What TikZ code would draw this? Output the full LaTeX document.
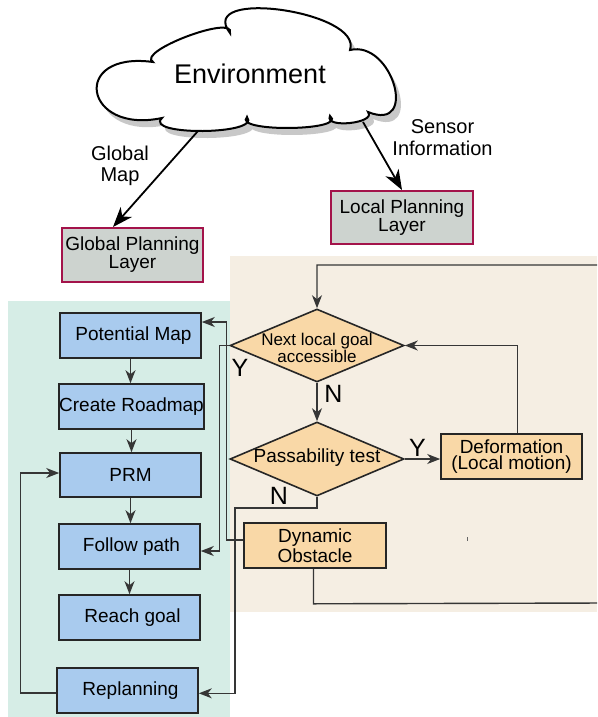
\documentclass[tikz,border=0pt]{standalone}
\usepackage{fontspec}
\setmainfont{Liberation Sans}
\usetikzlibrary{arrows.meta,shapes.geometric,calc}
\definecolor{bggreen}{HTML}{D6EDE6}
\definecolor{bgbeige}{HTML}{F5EEE3}
\definecolor{boxblue}{HTML}{A9CBEE}
\definecolor{boxorange}{HTML}{F9D8A7}
\definecolor{boxgrey}{HTML}{CDD3CF}
\definecolor{boxred}{HTML}{A3134A}
\definecolor{shadowgrey}{HTML}{C8C8C8}
\definecolor{linegrey}{HTML}{363636}
\tikzset{
  conn/.style={draw=linegrey, line width=1.4pt, -{Stealth[length=13pt,width=10pt,inset=4pt]}},
  bigarrow/.style={draw=black, line width=1.8pt, -{Stealth[length=20pt,width=15pt,inset=6pt]}},
  bluebox/.style={draw=black!85, line width=1.6pt, fill=boxblue, minimum width=141pt, minimum height=45pt, inner sep=0pt, font=\fontsize{19}{15}\selectfont},
  orangebox/.style={draw=black!85, line width=1.6pt, fill=boxorange, minimum width=141pt, minimum height=45pt, inner sep=0pt, align=center, font=\fontsize{19}{16.5}\selectfont},
  layerbox/.style={draw=boxred, line width=2pt, fill=boxgrey, minimum width=141pt, minimum height=54pt, inner sep=0pt, align=center, font=\fontsize{19}{15.5}\selectfont},
  dia/.style={diamond, draw=black!85, line width=1.6pt, fill=boxorange, minimum width=174pt, minimum height=73pt, inner sep=0pt},
  lbl/.style={align=center, inner sep=0pt, font=\fontsize{20}{21.5}\selectfont},
  yn/.style={inner sep=0pt, anchor=base, font=\fontsize{25}{25}\selectfont}
}
\begin{document}
\begin{tikzpicture}[x=1pt,y=-1pt]
\clip (0,0) rectangle (597,717);
\fill[white] (0,0) rectangle (597,717);
\fill[bggreen] (8,301) rectangle (230,717);
\fill[bgbeige] (230,256) rectangle (597,612);

% cloud shadow
\fill[shadowgrey, shift={(5,7)}] (153,62) .. controls (70,50.7) and (83.5,134.7) .. (162,118)
 .. controls (143,136) and (262,135) .. (247,117)
 .. controls (232.4,132.5) and (348.6,131.1) .. (330,116)
 .. controls (323.7,128.8) and (376.9,123.2) .. (368,112)
 .. controls (419.2,132.8) and (392.2,39.8) .. (350,50)
 .. controls (363.3,11.4) and (195.3,-12.4) .. (230,33)
 .. controls (235.75,13.75) and (135.65,51.45) .. (153,62) -- cycle;
% cloud
\filldraw[fill=white, draw=black, line width=2pt] (153,62) .. controls (70,50.7) and (83.5,134.7) .. (162,118)
 .. controls (143,136) and (262,135) .. (247,117)
 .. controls (232.4,132.5) and (348.6,131.1) .. (330,116)
 .. controls (323.7,128.8) and (376.9,123.2) .. (368,112)
 .. controls (419.2,132.8) and (392.2,39.8) .. (350,50)
 .. controls (363.3,11.4) and (195.3,-12.4) .. (230,33)
 .. controls (235.75,13.75) and (135.65,51.45) .. (153,62) -- cycle;
\node[inner sep=0pt, font=\fontsize{27}{30}\selectfont] (env) at (250,74) {Environment};
\coordinate (envgm) at (198,131);
\coordinate (envsi) at (363,122);

% planning layers
\node[layerbox] (gpl) at (132.5,255) {Global Planning\\Layer};
\node[layerbox, minimum width=142pt, minimum height=53pt, font=\fontsize{19}{17.7}\selectfont] (lpl) at (402,217.5) {Local Planning\\Layer};
\draw[bigarrow] (envgm) -- ($(gpl.north west)+(52,0)$);
\draw[bigarrow] (envsi) -- (lpl.north);
\node[lbl] (gmlbl) at (120,166) {Global\\Map};
\node[lbl] (silbl) at (442.5,137.5) {Sensor\\Information};

% global column
\node[bluebox] (pm) at (130.5,335.5) {\hspace*{6pt}Potential Map};
\node[bluebox, minimum width=145pt] (cr) at (131.5,406.5) {Create Roadmap};
\node[bluebox, minimum height=44pt] (prm) at (130.5,475) {PRM};
\node[bluebox] (fp) at (129.5,546.5) {\hspace*{4pt}Follow path};
\node[bluebox] (rg) at (129.5,617.5) {\hspace*{6pt}Reach goal};
\node[bluebox] (rp) at (127.5,690.5) {\hspace*{6pt}Replanning};

% local part
\node[dia, label={[name=d1txt, align=center, inner sep=0pt, yshift=-2.5pt, font=\fontsize{17}{16.7}\selectfont]center:{Next local goal\\accessible}}] (d1) at (317,345.5) {};
\node[dia, minimum height=74pt, label={[name=d2txt, inner sep=0pt, yshift=1pt, font=\fontsize{19}{20}\selectfont]center:{Passability test}}] (d2) at (317,459) {};
\node[orangebox] (def) at (511.5,456.5) {Deformation\\(Local motion)};
\node[orangebox, minimum width=142pt, font=\fontsize{19}{20}\selectfont] (dyn) at (315,545.5) {Dynamic\\Obstacle};

% connectors, global column
\draw[conn] (pm.south) -- (pm.south |- cr.north);
\draw[conn] (cr.south) -- (cr.south |- prm.north);
\draw[conn] (prm.south) -- (prm.south |- fp.north);
\draw[conn] (fp.south) -- (fp.south |- rg.north);
\draw[conn] ([yshift=-2.5pt]rp.west) -- ++(-36,0) |- ([yshift=2pt]prm.west);

% connectors, local part
\draw[conn] (d1.south) -- (d2.north);
\draw[conn] (d2.east) -- (d2.east -| def.west);
\draw[conn] ([xshift=6pt]def.north) |- (d1.east);
\draw[conn] ([xshift=-1.5pt]dyn.south) -- ++(0,35) -- (605,603) -- (605,265) -| (d1.north);
\draw[conn] (d1.west) -- ++(-10,0) |- ([yshift=-4.5pt]fp.east);
\draw[conn] ([yshift=5.5pt]dyn.west) -- ++(-17,0) |- ([yshift=13.5pt]pm.east);
\draw[conn] (d2.south) -- ++(0,11) -- ++(-82,0) |- ([yshift=-2.8pt]rp.east);

% Y / N labels
\node[yn] (y1) at (240,376) {Y};
\node[yn] (n1) at (333.5,402) {N};
\node[yn] (y2) at (417.5,456) {Y};
\node[yn] (n2) at (279,504) {N};

% stray mark
\draw[black!60, line width=1pt] (467.7,537) -- (467.7,541);
\end{tikzpicture}
\end{document}
